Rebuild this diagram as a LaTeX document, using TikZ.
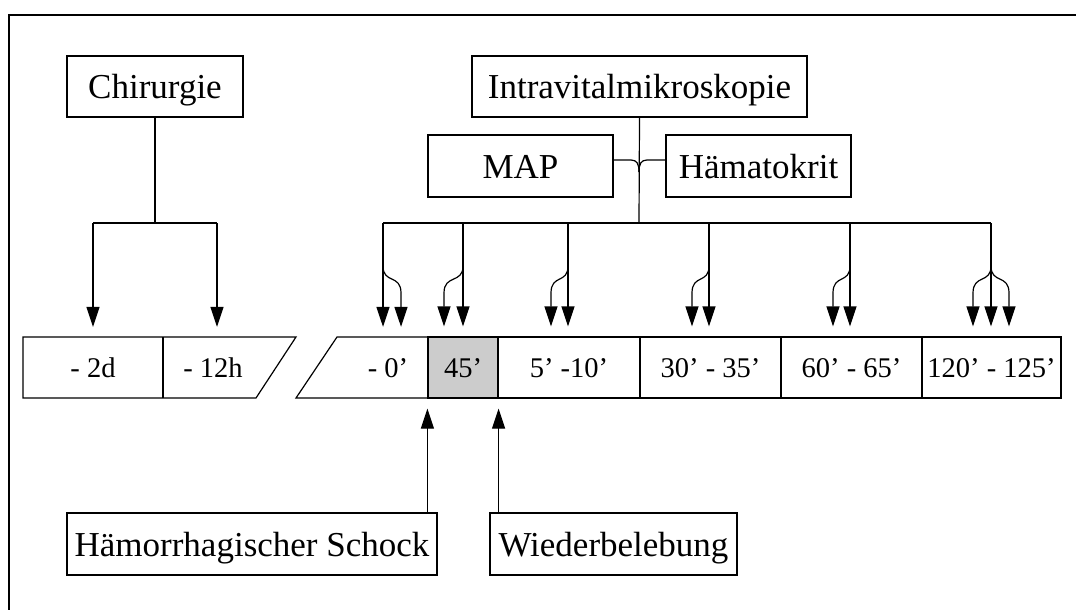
\documentclass[tikz,border=0pt]{standalone}
\usepackage{fontspec}
\setmainfont{Liberation Serif}
\usetikzlibrary{arrows.meta,calc}
\definecolor{cellgray}{RGB}{204,204,204}
\begin{document}
\begin{tikzpicture}[x=1pt,y=-1pt,
  box/.style={draw,line width=1.2pt,inner sep=0pt,text height=24pt,text depth=0pt,
              font=\fontsize{35}{42}\selectfont},
  cell/.style={inner sep=0pt,text height=19pt,text depth=0pt,minimum height=61pt,
               font=\fontsize{28.5}{34}\selectfont},
  dcell/.style={cell,draw,line width=1.2pt},
  ln/.style={line width=1.2pt},
  arr/.style={line width=1.2pt,-{Triangle[length=20pt,width=13pt]}}]
\useasboundingbox (0,0) rectangle (1076,610);
% frame (only top and left edges visible)
\draw[line width=2.5pt] (9,610) -- (9,15) -- (1076,15);

% top boxes
\node[box,minimum width=176pt,minimum height=61pt] (chir) at (155,86.5) {Chirurgie};
\node[box,minimum width=335pt,minimum height=61pt] (intra) at (639.5,86.5) {Intravitalmikroskopie};
\node[box,minimum width=185pt,minimum height=62pt] (map) at (520.5,166) {MAP};
\node[box,minimum width=185pt,minimum height=62pt] (hema) at (758.5,166) {Hämatokrit};

% bottom boxes
\node[box,minimum width=370pt,minimum height=62pt] (schock) at (252,544) {Hämorrhagischer Schock};
\node[box,minimum width=247pt,minimum height=62pt] (wieder) at (613.5,544) {Wiederbelebung};

% left timeline
\draw[ln] (23,337) -- (296,337) -- (256,398) -- (23,398) -- cycle;
\draw[ln] (163,337) -- (163,398);
\node[cell] (c2d) at (93,367.5) {- 2d};
\node[cell] (c12h) at (213,367.5) {- 12h};

% right timeline
\draw[ln] (337,337) -- (428,337) -- (428,398) -- (296,398) -- cycle;
\node[cell] (c0) at (388,367.5) {- 0’};
\node[dcell,fill=cellgray,minimum width=70pt] (c45) at (463,367.5) {45’};
\node[dcell,minimum width=142pt] (c5) at (569,367.5) {5’ -10’};
\node[dcell,minimum width=141pt] (c30) at (710.5,367.5) {30’ - 35’};
\node[dcell,minimum width=141pt] (c60) at (851.5,367.5) {60’ - 65’};
\node[dcell,minimum width=139pt] (c120) at (991.5,367.5) {120’ - 125’};

% Chirurgie connectors
\coordinate (cb) at (155,223);
\draw[ln] (chir.south) -- (cb);
\draw[ln] (93,223) -- (217,223);
\draw[arr] (93,223) -- ([yshift=10pt]c2d.north);
\draw[arr] (217,223) -- ([xshift=4pt,yshift=10pt]c12h.north);

% MAP / Haematokrit junction
\coordinate (j) at (639,172);
\draw[ln] ([yshift=6pt]map.east) -- (631,160) .. controls (637,160) and (639,164) .. (j);
\draw[ln] ([yshift=6pt]hema.west) -- (647,160) .. controls (641,160) and (639,164) .. (j);

% Intravital bus
\coordinate (bus) at (639,223);
\draw[ln] (intra.south) -- (bus);
\draw[ln] (383,223) -- (991,223);

% group - 0'
\draw[arr] (383,223) -- ([xshift=-5pt,yshift=10pt]c0.north);
\draw[arr] (383,266) .. controls (383,284) and (401,274) .. (401,293) -- ([xshift=13pt,yshift=10pt]c0.north);
% group 45'
\draw[arr] (463,223) -- ([yshift=10pt]c45.north);
\draw[arr] (463,266) .. controls (463,284) and (444,274) .. (444,293) -- ([xshift=-19pt,yshift=10pt]c45.north);
% group 5'-10'
\draw[arr] (568,223) -- ([xshift=-1pt,yshift=10pt]c5.north);
\draw[arr] (568,266) .. controls (568,284) and (551,274) .. (551,293) -- ([xshift=-18pt,yshift=10pt]c5.north);
% group 30'-35'
\draw[arr] (709,223) -- ([xshift=-1.5pt,yshift=10pt]c30.north);
\draw[arr] (709,266) .. controls (709,284) and (692,274) .. (692,293) -- ([xshift=-18.5pt,yshift=10pt]c30.north);
% group 60'-65'
\draw[arr] (850,223) -- ([xshift=-1.5pt,yshift=10pt]c60.north);
\draw[arr] (850,266) .. controls (850,284) and (833,274) .. (833,293) -- ([xshift=-18.5pt,yshift=10pt]c60.north);
% group 120'-125'
\draw[arr] (991,223) -- ([xshift=-0.5pt,yshift=10pt]c120.north);
\draw[arr] (991,266) .. controls (991,284) and (973,274) .. (973,293) -- ([xshift=-18.5pt,yshift=10pt]c120.north);
\draw[arr] (991,266) .. controls (991,284) and (1009,274) .. (1009,293) -- ([xshift=17.5pt,yshift=10pt]c120.north);

% upward arrows
\draw[arr] (schock.north -| c45.south west) -- ([yshift=-10pt]c45.south west);
\draw[arr] (wieder.north -| c45.south east) -- ([yshift=-10pt]c45.south east);
\end{tikzpicture}
\end{document}
